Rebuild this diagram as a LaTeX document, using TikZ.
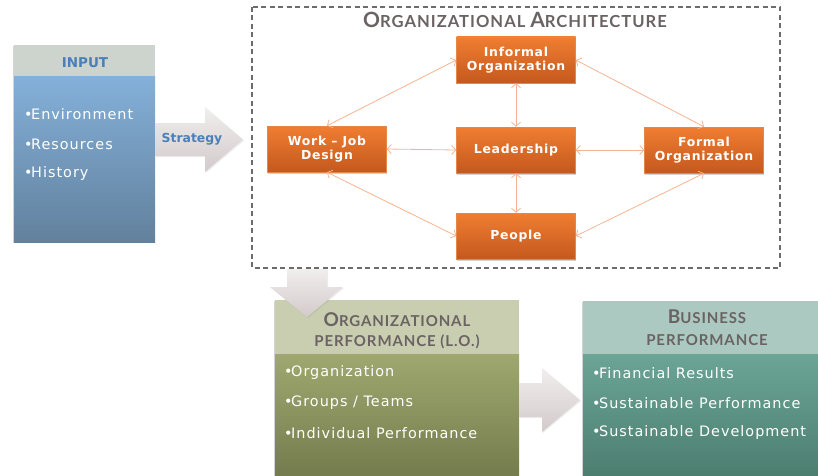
\documentclass[tikz,border=0pt]{standalone}
\usepackage{fontspec}
\setmainfont{DejaVu Sans}
\newfontfamily\bodyfont[LetterSpace=7]{DejaVu Sans}
\newfontfamily\boldfont[LetterSpace=6]{DejaVu Sans Bold}
\newfontfamily\plainbold{DejaVu Sans Bold}
\newfontfamily\gill[LetterSpace=6]{Lato}
\usetikzlibrary{arrows.meta,shadows}
\definecolor{orTop}{HTML}{F07D31}
\definecolor{orBot}{HTML}{C4591E}
\definecolor{orEdge}{HTML}{E4874A}
\definecolor{linkc}{HTML}{F2B492}
\definecolor{hdrtxt}{HTML}{6B6363}
\definecolor{bluetxt}{HTML}{4A80BA}
\definecolor{inHdr}{HTML}{CDD3CD}
\definecolor{inTop}{HTML}{84B0D9}
\definecolor{inBot}{HTML}{62819D}
\definecolor{opHdr}{HTML}{C8CEAF}
\definecolor{opTop}{HTML}{A0A870}
\definecolor{opBot}{HTML}{747C4D}
\definecolor{bpHdr}{HTML}{ABC9C1}
\definecolor{bpTop}{HTML}{6BA596}
\definecolor{bpBot}{HTML}{4C7E70}
\definecolor{arTop}{HTML}{F1EEEE}
\definecolor{arBot}{HTML}{D3CACA}
\newcommand{\bc}[1]{{\fontsize{19}{20}\selectfont #1}}
\newcommand{\tc}[1]{{\fontsize{21}{22}\selectfont #1}}
\newcommand{\bul}{•\kern-1.5pt}
\begin{document}
\begin{tikzpicture}[x=1pt,y=1pt,
  orangebox/.style={minimum width=119pt, minimum height=46pt, top color=orTop, bottom color=orBot,
    draw=orEdge, line width=0.5pt, text=white, font=\boldfont\fontsize{12.4}{14.5}\selectfont,
    align=center, inner sep=0pt, drop shadow={shadow xshift=0.8pt, shadow yshift=-1.5pt, opacity=0.35}},
  link/.style={{Straight Barb[length=4pt,width=9pt]}-{Straight Barb[length=4pt,width=9pt]}, draw=linkc, line width=0.8pt},
  bodytxt/.style={anchor=west, text=white, font=\bodyfont\fontsize{14.4}{16}\selectfont, inner sep=0pt},
  hdr/.style={text=hdrtxt, font=\gill\bfseries\fontsize{15}{16}\selectfont, inner sep=0pt, align=center},
  panelshadow/.style={drop shadow={shadow xshift=-1.5pt, shadow yshift=-1.2pt, opacity=0.35}},
  blockarrow/.style={top color=arTop, bottom color=arBot, drop shadow={shadow xshift=1pt, shadow yshift=-1pt, opacity=0.15}}
]
\useasboundingbox (0,0) rectangle (818,475);

% ---------- INPUT panel
\path[panelshadow, fill=inHdr] (14,233) rectangle (155,430);
\shade[top color=inTop, bottom color=inBot] (14,233) rectangle (155,399);
\fill[inHdr] (14,399) rectangle (155,430);
\node[text=bluetxt, font=\plainbold\fontsize{13.5}{16}\selectfont, inner sep=0pt] (inputlbl) at (85,412) {INPUT};
\node[bodytxt] (env) at (24,361) {\bul Environment};
\node[bodytxt] (res) at (24,331) {\bul Resources};
\node[bodytxt] (his) at (24,301) {\bul History};

% ---------- Strategy arrow
\path[blockarrow] (155,352) -- (205,352) -- (205,368) -- (243,335.5) -- (205,303) -- (205,319) -- (155,319) -- cycle;
\node[text=bluetxt, font=\plainbold\fontsize{12.4}{14}\selectfont, inner sep=0pt] (strat) at (192,336) {Strategy};

% ---------- Organizational architecture
\draw[dashed, dash pattern=on 5pt off 3.5pt, draw=gray!85!black, line width=1.1pt] (252,468) rectangle (780,207);
\node[hdr, font=\gill\bfseries\fontsize{16.6}{18}\selectfont] (archtitle) at (515,455) {\tc{O}RGANIZATIONAL \tc{A}RCHITECTURE};

\node[orangebox] (inf) at (516,415) {Informal\\Organization};
\node[orangebox] (work) at (327,326) {Work – Job\\Design};
\node[orangebox] (lead) at (516,325) {Leadership};
\node[orangebox] (form) at (704,325) {Formal\\Organization};
\node[orangebox] (peop) at (516,239) {People};

\draw[link] (work.north) -- (inf.west);
\draw[link] (inf.east) -- (form.north);
\draw[link] (inf.south) -- (lead.north);
\draw[link] (work.east) -- (lead.west);
\draw[link] (lead.east) -- (form.west);
\draw[link] (lead.south) -- (peop.north);
\draw[link] (work.south) -- (peop.west);
\draw[link] (form.south) -- (peop.east);

% ---------- Organizational performance panel
\path[panelshadow, fill=opHdr] (275,0) rectangle (519,175);
\shade[top color=opTop, bottom color=opBot] (275,0) rectangle (519,121);
\fill[opHdr] (275,121) rectangle (519,175);
\node[hdr] (ophdr1) at (397,155) {\bc{O}RGANIZATIONAL};
\node[hdr] (ophdr2) at (397,133) {PERFORMANCE (L.O.)};
\node[bodytxt] (o1) at (284,102) {\bul Organization};
\node[bodytxt] (o2) at (284,72) {\bul Groups / Teams};
\node[bodytxt] (o3) at (284,42) {\bul Individual Performance};

% down arrow
\path[blockarrow] (287,206) -- (327,206) -- (327,188) -- (343,188) -- (307,158) -- (270,188) -- (287,188) -- cycle;

% ---------- Business performance panel
\path[panelshadow, fill=bpHdr] (583,0) rectangle (818,174);
\shade[top color=bpTop, bottom color=bpBot] (583,0) rectangle (818,121);
\fill[bpHdr] (583,121) rectangle (818,174);
\node[hdr] (bphdr1) at (707,158) {\bc{B}USINESS};
\node[hdr] (bphdr2) at (707,135) {PERFORMANCE};
\node[bodytxt] (b1) at (592,102) {\bul Financial Results};
\node[bodytxt] (b2) at (592,72) {\bul Sustainable Performance};
\node[bodytxt] (b3) at (592,42) {\bul Sustainable Development};

% right arrow
\path[blockarrow] (519,92) -- (542,92) -- (542,107) -- (580,75) -- (542,43) -- (542,58) -- (519,58) -- cycle;
\end{tikzpicture}
\end{document}
